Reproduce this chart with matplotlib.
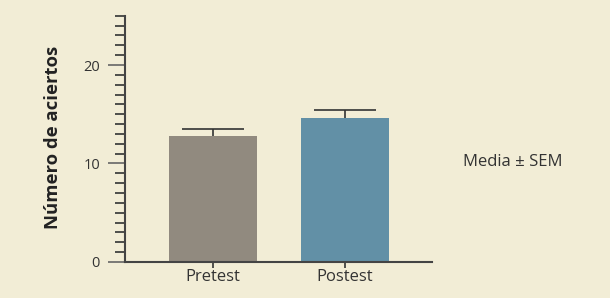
import matplotlib
matplotlib.use("Agg")
import matplotlib.pyplot as plt
from matplotlib.ticker import MultipleLocator

# Datos del grafico
grupos = ["Pretest", "Postest"]
medias = [12.8, 14.65]
sem = [0.7, 0.8]

fondo = "#F2EDD6"
colores = ["#918A7F", "#6290A6"]
gris = "#333333"

plt.rcParams["font.family"] = ["Open Sans", "DejaVu Sans"]

fig = plt.figure(figsize=(6.1, 2.98), dpi=100, facecolor=fondo)
ax = fig.add_axes([0.205, 0.121, 0.503, 0.826])
ax.set_facecolor(fondo)

x = range(len(grupos))
ax.bar(x, medias, width=0.667, color=colores, zorder=2)
_, caps, _ = ax.errorbar(x, medias, yerr=[[0, 0], sem], fmt="none", ecolor=gris,
                         elinewidth=1.2, capsize=22, capthick=1.2, zorder=3)
caps[0].set_visible(False)  # solo la barra superior

ax.set_xlim(-0.667, 1.66)
ax.set_ylim(0, 25)
ax.set_xticks(list(x))
ax.set_xticklabels(grupos, fontsize=12, color=gris)
ax.set_yticks([0, 10, 20])
ax.yaxis.set_minor_locator(MultipleLocator(1))
ax.tick_params(axis="y", which="major", length=12, width=1.2, color="#666666",
               labelsize=10.5, labelcolor=gris, pad=6)
ax.tick_params(axis="y", which="minor", length=7, width=1.2, color=gris)
ax.tick_params(axis="x", length=4, width=1.2, color=gris, pad=1)

for lado in ["top", "right"]:
    ax.spines[lado].set_visible(False)
for lado in ["left", "bottom"]:
    ax.spines[lado].set_color("#444444")
    ax.spines[lado].set_linewidth(1.5)

ax.set_ylabel("Número de aciertos", fontsize=13.3, fontweight="bold", color="#222222")
ax.yaxis.set_label_coords(-0.205, 0.505)

fig.text(0.841, 0.456, "Media ± SEM", fontsize=12, color=gris,
         ha="center", va="center")

fig.savefig("out.png", dpi=100, facecolor=fondo)
